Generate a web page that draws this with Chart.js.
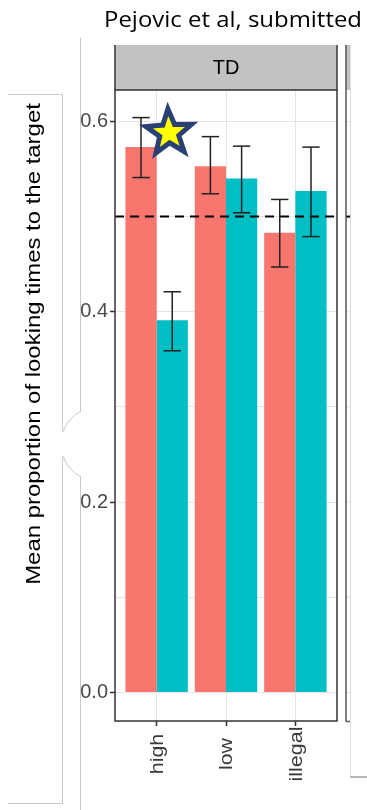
<!DOCTYPE html>
<html>
<head>
<meta charset="utf-8">
<script src="https://cdn.jsdelivr.net/npm/chart.js@4/dist/chart.umd.min.js"></script>
<style>
  html, body { margin: 0; padding: 0; background: #fff; }
  #wrap { position: relative; width: 367px; height: 810px; }
</style>
</head>
<body>
<div id="wrap"><canvas id="myChart"></canvas></div>
<script>
// values
const categories = ["high", "low", "illegal"]
const redMeans = [0.573, 0.553, 0.483]
const redUpper = [0.604, 0.584, 0.518]
const redLower = [0.541, 0.524, 0.447]
const blueMeans = [0.391, 0.540, 0.527]
const blueUpper = [0.421, 0.574, 0.573]
const blueLower = [0.359, 0.504, 0.479]
const yTicks = [0, 0.1, 0.2, 0.3, 0.4, 0.5, 0.6]
const chanceLevel = 0.5
const starAt = { x: 1.18, y: 0.588 }
const titleText = "Pejovic et al, submitted"
const panelLabel = "TD"
const yTitle = "Mean proportion of looking times to the target"

const RED = "#F8766D"
const TEAL = "#00BFC4"
const errs = [[redLower, redUpper], [blueLower, blueUpper]]

function line(ctx, x1, y1, x2, y2) {
  ctx.beginPath()
  ctx.moveTo(x1, y1)
  ctx.lineTo(x2, y2)
  ctx.stroke()
}

function vText(ctx, text, x, y, font, stretch, color) {
  ctx.save()
  ctx.translate(x, y)
  ctx.rotate(-Math.PI / 2)
  ctx.scale(stretch, 1)
  ctx.font = font
  ctx.fillStyle = color
  ctx.textAlign = "center"
  ctx.textBaseline = "middle"
  ctx.fillText(text, 0, 0)
  ctx.restore()
}

function starPath(ctx, cx, cy, R, r, rot) {
  ctx.beginPath()
  for (let k = 0; k < 10; k++) {
    const rad = k % 2 ? r : R
    const a = -Math.PI / 2 + rot + k * Math.PI / 5
    ctx.lineTo(cx + rad * Math.cos(a), cy + rad * Math.sin(a))
  }
  ctx.closePath()
}

const extras = {
  id: "extras",
  afterDraw(chart) {
    const ctx = chart.ctx
    const xs = chart.scales.x
    const ys = chart.scales.y
    const a = chart.chartArea
    ctx.save()

    // dashed chance line
    const y5 = ys.getPixelForValue(chanceLevel)
    ctx.strokeStyle = "#000"
    ctx.lineWidth = 2
    ctx.setLineDash([9, 6])
    line(ctx, a.left, y5, a.right, y5)
    ctx.setLineDash([])

    // error bars
    const capHalf = xs.getPixelForValue(1.125) - xs.getPixelForValue(1)
    ctx.strokeStyle = "#222"
    ctx.lineWidth = 1.5
    errs.forEach((e, d) => {
      chart.getDatasetMeta(d).data.forEach((bar, i) => {
        const yl = ys.getPixelForValue(e[0][i])
        const yh = ys.getPixelForValue(e[1][i])
        line(ctx, bar.x, yl, bar.x, yh)
        line(ctx, bar.x - capHalf, yl, bar.x + capHalf, yl)
        line(ctx, bar.x - capHalf, yh, bar.x + capHalf, yh)
      })
    })

    // strip
    ctx.fillStyle = "#c2c2c2"
    ctx.fillRect(a.left, 45, a.right - a.left, a.top - 45)
    ctx.fillStyle = "#000"
    ctx.font = "20px 'Liberation Sans', Arial, sans-serif"
    ctx.textAlign = "center"
    ctx.textBaseline = "middle"
    ctx.fillText(panelLabel, (a.left + a.right) / 2, 68)

    // panel border
    ctx.strokeStyle = "#333"
    ctx.lineWidth = 1.5
    ctx.strokeRect(a.left, a.top, a.right - a.left, a.bottom - a.top)
    line(ctx, a.left, 45, a.left, a.top)
    line(ctx, a.right, 45, a.right, a.top)

    // x labels
    categories.forEach((c, i) => {
      vText(ctx, c, xs.getPixelForValue(i + 1) + 1, 754, "19px 'Liberation Sans', Arial, sans-serif", 1.13, "#3a3a3a")
    })

    // y title
    vText(ctx, yTitle, 34, 344, "21px 'Liberation Sans', Arial, sans-serif", 1.14, "#000")

    // title, fitted to its width in the figure
    ctx.save()
    ctx.fillStyle = "#000"
    ctx.font = "21px 'Open Sans', sans-serif"
    ctx.textAlign = "right"
    ctx.textBaseline = "alphabetic"
    const tw = ctx.measureText(titleText).width
    ctx.translate(362, 27)
    ctx.scale(258 / tw, 1)
    ctx.fillText(titleText, 0, 0)
    ctx.restore()

    // star
    const sx = xs.getPixelForValue(starAt.x)
    const sy = ys.getPixelForValue(starAt.y)
    starPath(ctx, sx, sy, 24, 10, -0.05)
    ctx.fillStyle = "#ffff00"
    ctx.fill()
    ctx.strokeStyle = "#2b3f77"
    ctx.lineWidth = 5
    ctx.miterLimit = 10
    ctx.stroke()

    // slide leftovers on the left
    ctx.strokeStyle = "#c8c8c8"
    ctx.lineWidth = 1
    line(ctx, 8, 94.5, 62.5, 94.5)
    line(ctx, 62.5, 94, 62.5, 431)
    line(ctx, 62.5, 457, 62.5, 803.5)
    line(ctx, 8, 803.5, 62.5, 803.5)
    line(ctx, 80.5, 38, 80.5, 412)
    line(ctx, 80.5, 476, 80.5, 810)
    ctx.beginPath()
    ctx.arc(98, 444, 37, -119 * Math.PI / 180, -161 * Math.PI / 180, true)
    ctx.stroke()
    ctx.beginPath()
    ctx.arc(98, 444, 37, 161 * Math.PI / 180, 119 * Math.PI / 180, true)
    ctx.stroke()

    // neighbour panel edge on the right
    ctx.fillStyle = "#c2c2c2"
    ctx.fillRect(345.5, 45, 5, 45)
    ctx.strokeStyle = "#e0e0e0"
    yTicks.forEach(v => {
      const yy = ys.getPixelForValue(v)
      line(ctx, 346, yy, 350, yy)
    })
    ctx.strokeStyle = "#000"
    ctx.lineWidth = 2
    line(ctx, 346, y5, 350, y5)
    ctx.strokeStyle = "#555"
    ctx.lineWidth = 1.5
    line(ctx, 346, 45, 346, 721.5)
    line(ctx, 346, 721.5, 350, 721.5)
    ctx.strokeStyle = "#dcdcdc"
    ctx.lineWidth = 1
    line(ctx, 350.5, 45, 350.5, 776)
    ctx.strokeStyle = "#b8b8b8"
    ctx.lineWidth = 2
    line(ctx, 350, 777, 367, 777)

    ctx.restore()
  }
}

const data = {
  datasets: [
    {
      label: "red",
      data: categories.map((c, i) => ({ x: i + 1, y: redMeans[i] })),
      backgroundColor: RED,
      borderWidth: 0
    },
    {
      label: "teal",
      data: categories.map((c, i) => ({ x: i + 1, y: blueMeans[i] })),
      backgroundColor: TEAL,
      borderWidth: 0
    }
  ]
}

let myChart = new Chart(document.querySelector("#myChart"), {
  type: "bar",
  data: data,
  plugins: [extras],
  options: {
    responsive: true,
    maintainAspectRatio: false,
    animation: false,
    devicePixelRatio: 1,
    layout: { padding: { top: 90, right: 30, left: 0, bottom: 0 } },
    categoryPercentage: 0.9,
    barPercentage: 1.0,
    plugins: { legend: { display: false }, tooltip: { enabled: false } },
    scales: {
      x: {
        type: "linear",
        min: 0.4,
        max: 3.6,
        offset: false,
        afterBuildTicks: s => { s.ticks = categories.map((c, i) => ({ value: i + 1 })) },
        ticks: { display: false },
        grid: { offset: false, color: "#e4e4e4", lineWidth: 1, tickLength: 5, tickColor: "#333", tickWidth: 1.5 },
        border: { display: false },
        afterFit: s => { s.height = 89 }
      },
      y: {
        min: -0.03,
        max: 0.633,
        afterBuildTicks: s => { s.ticks = yTicks.map(v => ({ value: v })) },
        ticks: {
          callback: v => (Math.round(v * 10) % 2 === 0 ? v.toFixed(1) : ""),
          color: "#4a4a4a",
          font: { family: "'Liberation Sans', Arial, sans-serif", size: 20 },
          padding: 2
        },
        grid: {
          color: "#e4e4e4",
          lineWidth: 1,
          tickLength: 5,
          tickWidth: 1.5,
          tickColor: c => (Math.round(c.tick.value * 10) % 2 === 0 ? "#333" : "rgba(0,0,0,0)")
        },
        border: { display: false },
        afterFit: s => { s.width = 115 }
      }
    }
  }
})
</script>
</body>
</html>
